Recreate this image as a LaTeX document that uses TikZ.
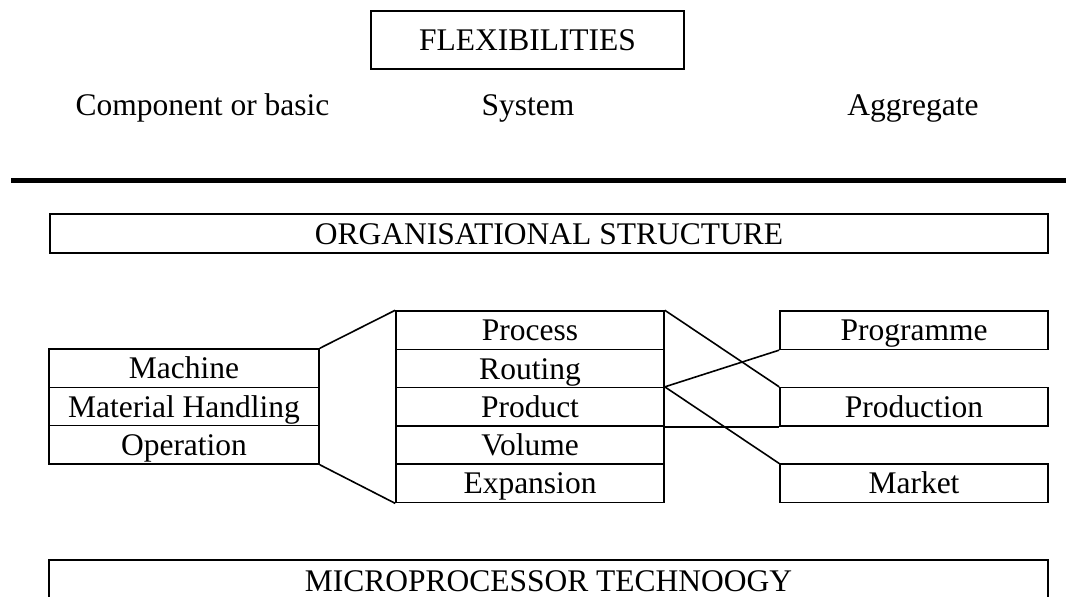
\documentclass[tikz,border=0pt]{standalone}
\usepackage{fontspec}
\setmainfont{Liberation Serif}
\begin{document}
\begin{tikzpicture}[x=1pt,y=-1pt,
  lbl/.style={font=\fontsize{31.5}{36}\selectfont, inner sep=0pt},
  cell/.style={draw, line width=1.6pt, rectangle, inner sep=0pt,
    text height=21pt, text depth=0pt, font=\fontsize{31.5}{36}\selectfont},
  leftcell/.style={cell, minimum width=270pt, minimum height=38.3pt},
  midcell/.style={cell, minimum width=268pt, minimum height=38.3pt},
  rightcell/.style={cell, minimum width=268pt, minimum height=38.3pt},
  link/.style={line width=1.6pt}]
\useasboundingbox (0,0) rectangle (1066,597);
% header
\node[cell, minimum width=313pt, minimum height=58pt] (flex) at (527.5,40) {FLEXIBILITIES};
\node[lbl, anchor=base] (comp) at (202.5,115) {Component or basic};
\node[lbl, anchor=base] (sys) at (528,115) {System};
\node[lbl, anchor=base] (agg) at (913,115) {Aggregate};
\coordinate (tl) at (11,180.5);
\coordinate (tr) at (1066,180.5);
\draw[line width=5pt] (tl) -- (tr);
% organisational structure
\node[cell, minimum width=998pt, minimum height=39pt] (org) at (549,233.5) {ORGANISATIONAL STRUCTURE};
% left column
\node[leftcell] (mach) at (184,368.2) {Machine};
\node[leftcell] (math) at (184,406.5) {Material Handling};
\node[leftcell] (oper) at (184,444.8) {Operation};
% middle column
\node[midcell] (proc) at (530,330.2) {Process};
\node[midcell] (rout) at (530,368.5) {Routing};
\node[midcell] (prodt) at (530,406.8) {Product};
\node[midcell] (volu) at (530,445.1) {Volume};
\node[midcell] (expa) at (530,483.4) {Expansion};
% right column
\node[rightcell] (prog) at (914,330.2) {Programme};
\node[rightcell] (prodn) at (914,406.8) {Production};
\node[rightcell] (mark) at (914,483.4) {Market};
% connectors
\draw[link] (mach.north east) -- (proc.north west);
\draw[link] (oper.south east) -- (expa.south west);
\draw[link] (proc.north east) -- (prodn.north west);
\draw[link] (prodt.north east) -- (prog.south west);
\draw[link] (prodt.north east) -- (mark.north west);
\draw[link] (prodt.south east) -- (prodn.south west);
% microprocessor technology
\node[cell, minimum width=999pt, minimum height=42pt] (micro) at (548.5,581) {MICROPROCESSOR TECHNOOGY};
\end{tikzpicture}
\end{document}
